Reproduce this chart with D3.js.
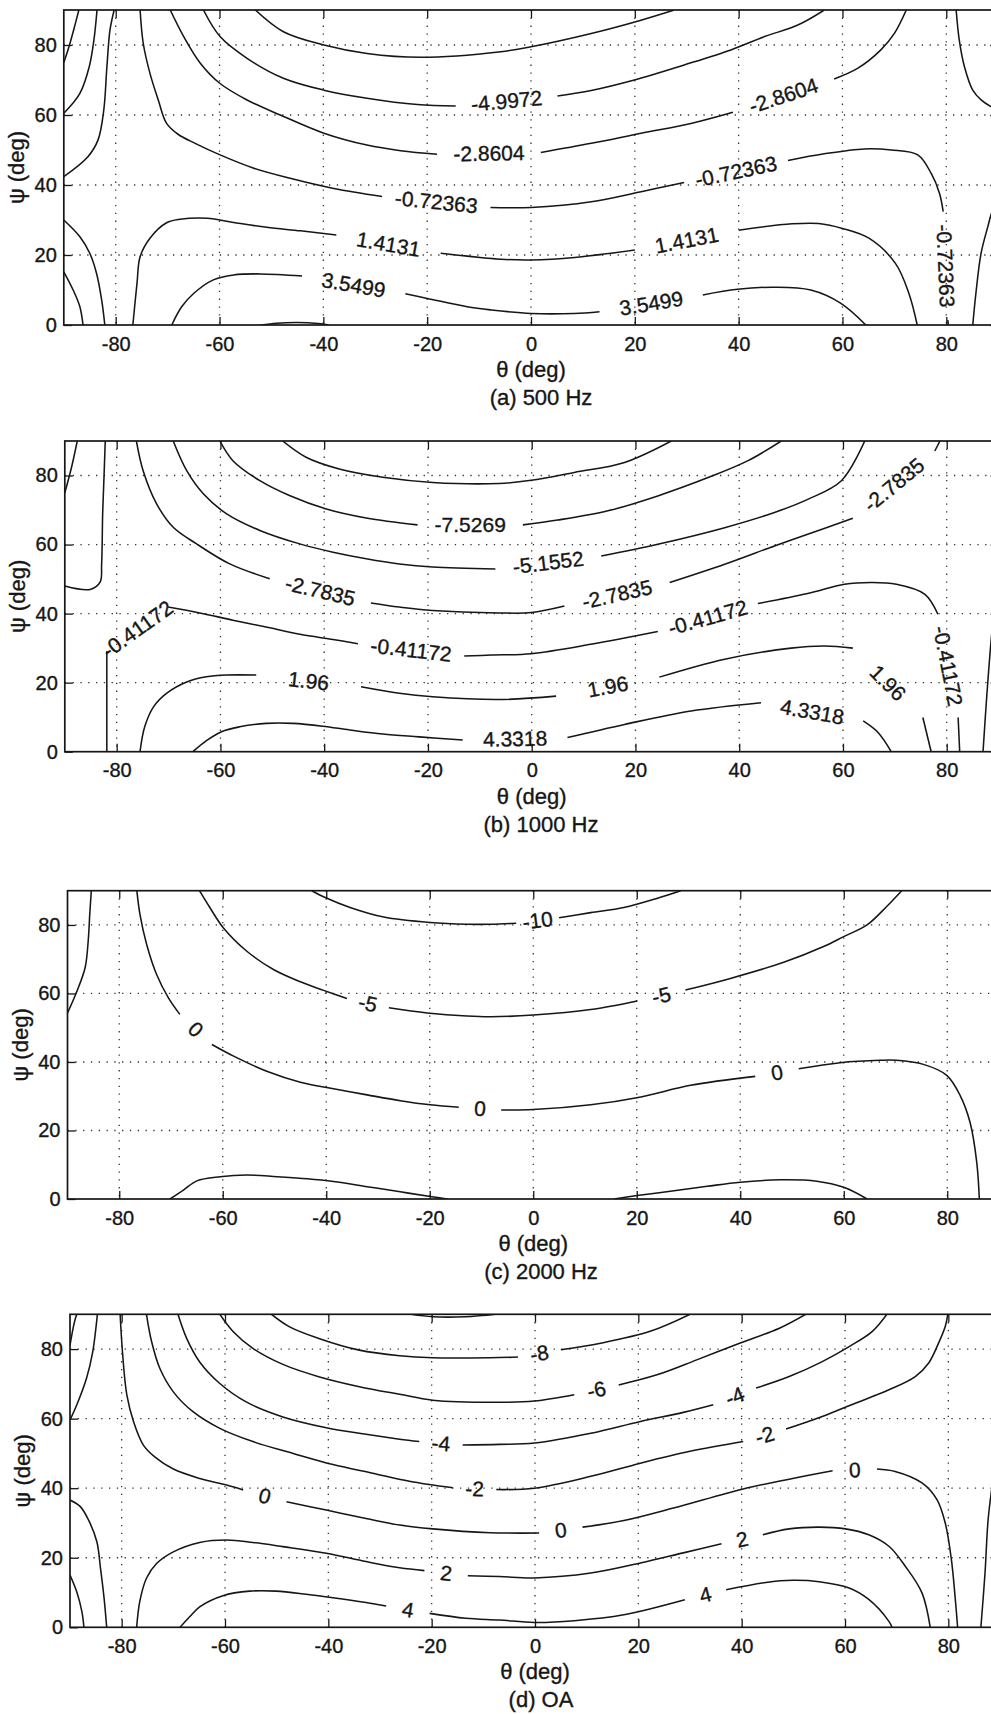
<!DOCTYPE html>
<html>
<head>
<meta charset="utf-8">
<script src="https://cdn.jsdelivr.net/npm/d3@7"></script>
<style>
body { margin: 0; background: #fff; }
svg { display: block; }
</style>
</head>
<body>
<div id="chart"></div>
<script>
const WIDTH = 991, HEIGHT = 1714;
const INK = "#161616";
const FONT = "'Liberation Sans', Arial, Helvetica, sans-serif";

const thetaTicks = [-80, -60, -40, -20, 0, 20, 40, 60, 80];
const psiTicks = [0, 20, 40, 60, 80];
const captions = ["(a) 500 Hz", "(b) 1000 Hz", "(c) 2000 Hz", "(d) OA"];

// contour lines as [theta, psi] in degrees.
// a contour is broken into pieces; its level label sits in each gap between pieces
const contours500 = [
    {level: null, pieces: [[[-90,75],[-89,79.5],[-88.1,84.3],[-87.1,90]]]},
    {level: null, pieces: [[[-90,60.5],[-86.9,66.2],[-85.1,73.8],[-84.2,81.4],[-83.6,90]]]},
    {level: null, pieces: [[[-90,42.4],[-85.4,48],[-83.4,52.9],[-82.3,61.4],[-81.7,73.7],[-81.1,84.3],[-80.3,90]]]},
    {level: null, pieces: [[[-90,30],[-86.9,25.2],[-85,20.5],[-83.7,14.8],[-82.7,7.1],[-82.1,0]]]},
    {level: null, pieces: [[[-90,15.2],[-88.2,10],[-86.9,5.2],[-86.3,0]]]},
    {level: "1.4131", pieces: [
        [[-76.7,0],[-75.9,11.9],[-75.3,19.5],[-73.4,24.8],[-70.2,29.2],[-67.6,30.2],[-62.4,30.5],[-57.3,29.3],[-50.9,27.9],[-44.4,26.9],[-37.5,25.7]],
        [[-17.4,20.5],[-5.8,18.8],[0,18.6],[8.4,19.3],[20,21.4]],
        [[40,27.1],[50.3,28.9],[55.4,29],[60,27.6],[65.1,24.8],[70.2,17.6],[72.8,9],[74.4,0]]]},
    {level: "3.5499", pieces: [
        [[-69.2,0],[-67.3,5.2],[-65,9],[-61.2,12.9],[-57.3,14.3],[-52.2,14.6],[-44.1,14]],
        [[-24.2,8.9],[-20,7.6],[-12.3,5.2],[-7.7,4.3],[0,3.3],[8.3,3.3],[13.2,3.8]],
        [[33.1,8.6],[39.8,10.2],[46.9,10.8],[53.9,10],[59.7,6.2],[64.5,0]]]},
    {level: null, pieces: [[[-52,0],[-49,0.5],[-45,0.7],[-41,0.4],[-39,0]]]},
    {level: "-0.72363", pieces: [
        [[-75.3,90],[-74.7,80.5],[-73.4,71.9],[-71.8,64.3],[-70.2,57.6],[-68,54.5],[-64.7,51.9],[-59.9,48.6],[-53.4,44.8],[-46.4,41.9],[-38,39],[-28.7,36.7]],
        [[-7.8,33.6],[0,33.6],[11.6,35.2],[21.2,38.1],[29.5,40.7]],
        [[49.5,47],[56.5,48.9],[64.2,50.3],[69.4,50],[74.5,48.6],[77.1,43.3],[78.7,37.6],[79.4,32.4]],
        [[80.3,1.4],[80.4,0]]]},
    {level: "-2.8604", pieces: [
        [[-69.5,90],[-66.9,82.4],[-63.7,74.8],[-59.9,69],[-54.7,64.3],[-48.3,60],[-39.9,54.8],[-31.6,51.4],[-25.1,49.8],[-18.1,48.8]],
        [[1.9,49.3],[11.6,51.9],[21.2,54.8],[30.8,57.6],[38.9,60.8]],
        [[58.4,70.3],[62.9,73.3],[67.4,78.6],[70,83.3],[72.3,90]]]},
    {level: "-4.9972", pieces: [
        [[-63.1,90],[-59.9,82.4],[-54.7,76.2],[-47.7,70.5],[-39.9,67.1],[-31.6,64.8],[-21.9,63],[-14.5,62.6]],
        [[5.1,65.4],[11.6,67],[19.9,70],[29.5,74.3],[38.5,78.6],[45,82.4],[51.4,85.7],[56.5,90]]]},
    {level: null, pieces: [[[-53.1,90],[-47.7,83.8],[-39.9,80],[-31.6,77.6],[-21.3,76.5],[-5.8,78.1],[0,79.5],[11.6,83.3],[21.2,87.1],[27.6,90]]]},
    {level: null, pieces: [[[81.9,90],[82.5,81.4],[83.5,73.8],[85.1,67.1],[86.7,64.3],[88.6,62.4],[90,61.5]]]},
    {level: null, pieces: [[[85.1,0],[85.7,9],[86.7,20.5],[88,28.1],[88.6,31.4],[90,37]]]}
];

const contours1000 = [
    {level: null, pieces: [[[-90,75],[-88.7,82.4],[-87.6,90]]]},
    {level: null, pieces: [[[-90,48],[-85.1,47],[-83.2,49.1],[-82.9,54.4],[-82.7,68.9],[-82.4,81.4],[-82.2,90]]]},
    {level: "-0.41172", pieces: [
        [[-81.9,0],[-81.9,29.2]],
        [[-70.1,41.9],[-64,40.2],[-57.6,38.1],[-51.2,36.1],[-44.7,34],[-38.3,32.5],[-33.5,31.3]],
        [[-13,27.7],[-7.8,28],[-0.1,28.4],[11.4,31.1],[24.3,34.8]],
        [[43.6,42.9],[53.2,45.8],[60.3,48.5],[65.5,49],[70.3,48.5],[75.8,45.6],[78.3,39.8]],
        [[82.2,9.9],[82.5,0]]]},
    {level: "1.96", pieces: [
        [[-75.5,0],[-74.6,7.2],[-72.9,13],[-70.4,16.9],[-66.5,20.2],[-62.7,21.7],[-58.8,22.2],[-53.1,22.2]],
        [[-32.9,18.8],[-25.5,16.9],[-19.1,15.9],[-6.3,15.1],[4.7,16.1]],
        [[24.6,21.6],[37.2,26.8],[50,30],[56.5,30.6],[61.9,30]],
        [[75.4,9.9],[77,0]]]},
    {level: "4.3318", pieces: [
        [[-65.3,0],[-62.7,3.2],[-59.8,5.8],[-56.3,7.2],[-51.2,8.2],[-46,8.2],[-40.3,7.4],[-35.1,6.3],[-28.7,5.1],[-21.7,4.3],[-13.3,3.4]],
        [[6.9,4.1],[17.9,7.9],[30.7,11.8],[44.2,14.2]],
        [[63.9,8.9],[66.8,5.5],[69.3,0]]]},
    {level: "-2.7835", pieces: [
        [[-76.2,90],[-74.9,81.4],[-72.3,71.8],[-69.1,65],[-64.6,60.2],[-58.2,54.4],[-50.5,50.1]],
        [[-31,43.1],[-25.5,41.9],[-19.1,40.9],[-6.3,40.2],[-0.1,40.3],[6.3,42.2]],
        [[26.6,49],[37.2,54.3],[46.8,59.6],[53.2,63],[61.9,67.6]],
        [[77.7,87.1],[78.7,90]]]},
    {level: "-5.1552", pieces: [
        [[-69.1,90],[-66.5,81.4],[-63.3,74.7],[-58.8,68.9],[-52.4,64.1],[-44.7,60.2],[-38.3,57.8],[-31.9,55.9],[-25.5,54.4],[-19.1,53.5],[-7,52.9]],
        [[13.4,56.7],[24.3,60.1],[37.2,64.9],[46.8,69.3],[53.2,73.1],[59.7,78.5],[64.2,90]]]},
    {level: "-7.5269", pieces: [
        [[-60.1,90],[-57.6,84.3],[-52.4,78.5],[-46.7,74.2],[-39.6,70.3],[-31.9,67.7],[-22,65.7]],
        [[-1.7,65.7],[5,67.1],[14.7,69.8],[24.3,74.1],[34,79.4],[41.7,84.3],[48.1,90]]]},
    {level: null, pieces: [[[-48,90],[-43.5,85.3],[-37.1,81.9],[-28.7,79.5],[-19.1,78],[-6.3,77.7],[-0.1,78.6],[8.2,80.9],[17.9,83.8],[26.9,90]]]},
    {level: null, pieces: [[[87,0],[87.7,15.7],[88.6,33],[89.6,48]]]}
];

const contours2000 = [
    {level: null, pieces: [[[-90,54.3],[-88.3,60.2],[-86.6,67.5],[-86,75.3],[-85.7,83.1],[-85.4,90]]]},
    {level: "0", pieces: [
        [[-76.6,90],[-76,83.1],[-74.7,74.3],[-72.8,65.6],[-70.5,58.7],[-68.3,53.9]],
        [[-62.1,45.1],[-57.9,41.7],[-51.5,37.3],[-45,34.1],[-38.6,32.2],[-32.1,30.4],[-25.7,28.7],[-19.9,27.5],[-14.4,26.8]],
        [[-6.2,26],[0,26.1],[11.1,27.5],[20.8,29.8],[30.4,33.2],[42.9,35.8]],
        [[51.3,38],[59.3,39.8],[67,40.5],[70.2,40.5],[75.4,39.3],[79.9,36.1],[82.5,30.2],[84.4,22.4],[85.7,10.7],[86.2,0]]]},
    {level: "-5", pieces: [
        [[-64.5,90],[-62.5,85.1],[-59.9,79.2],[-55.4,72.4],[-50.2,67],[-45,63.4],[-40.5,60.9],[-36,58.5]],
        [[-27.9,55.8],[-20.5,54.3],[-12.8,53.4],[-8.2,53.2],[0,53.7],[11.1,55.3],[20.1,57.8]],
        [[29.4,61],[38.1,64.4],[48.4,69.1],[56.1,73.7],[60,76.6],[64.5,80],[68.3,85.4],[71.2,90]]]},
    {level: "-10", pieces: [
        [[-42.8,90],[-40.2,88],[-35.4,85.1],[-28.9,82.3],[-19.9,80.7],[-12.8,80.2],[-8.2,80.2],[-3.3,80.5]],
        [[5,82.1],[11.1,83.6],[17.5,85.1],[24,87.8],[28.5,90]]]},
    {level: null, pieces: [[[-70.2,0],[-67.6,2.6],[-65,5.3],[-60.5,6.5],[-55.4,7],[-49.5,6.5],[-43.7,5.9],[-38.6,5.1],[-32.1,3.6],[-25.7,2.1],[-19.9,0.7],[-16.6,0]]]},
    {level: null, pieces: [[[15.6,0],[20.1,1],[27.2,2.4],[33.6,3.7],[40,4.9],[47.8,5.6],[54.8,5.2],[60,3.4],[64.5,0]]]}
];

const contoursOA = [
    {level: null, pieces: [[[-90,81.1],[-89.2,87.4],[-88.7,90]]]},
    {level: null, pieces: [[[-90,59.6],[-88.7,63.9],[-86.8,71.6],[-85.6,79.2],[-85,85.9],[-84.7,90]]]},
    {level: null, pieces: [[[-90,36.6],[-88,34.7],[-86.4,30.8],[-84.8,24.6],[-84.1,17],[-83.4,8.3],[-82.9,0]]]},
    {level: null, pieces: [[[-90,15],[-88.7,10.2],[-87.7,4.5],[-87.3,0]]]},
    {level: "0", pieces: [
        [[-80.3,90],[-79.8,78.3],[-79,66.8],[-77.7,59.1],[-75.8,52.4],[-73.6,49],[-70,45.5],[-64.9,42.8],[-59.7,40.9],[-56.5,39.5]],
        [[-48.1,36.1],[-40.4,33.7],[-32.7,31.3],[-26.2,29.4],[-19.8,28.3],[-8.7,27.2],[0.8,27.1]],
        [[9.2,28.8],[17.2,30.7],[26.8,34.3],[40.3,39.8],[49.2,42.6],[57.6,45]],
        [[66.2,45.5],[69.7,44.8],[74.9,41.5],[77.8,36.7],[79.4,30],[80.6,19.4],[81.3,8.9],[81.8,0]]]},
    {level: "-2", pieces: [
        [[-75.2,90],[-74.2,82.1],[-72.6,74.4],[-70,67.7],[-66.2,62],[-61,57.2],[-54.6,53.4],[-46.8,50],[-39.1,46.8],[-31.4,44.3],[-24.3,42],[-15.9,40.1]],
        [[-7.5,39.6],[-0.1,40],[10.8,43.4],[20.4,47.2],[30,50.6],[40.3,53.4]],
        [[48.6,57],[55.6,60.6],[62.1,64.5],[68.5,68.3],[73.6,72.1],[76.2,76],[78.1,81.7],[79.4,86.5],[79.9,90]]]},
    {level: "-4", pieces: [
        [[-69.1,90],[-67.4,83],[-64.9,76.3],[-61,70.1],[-55.9,64.8],[-48.8,60.5],[-40.4,57.4],[-32.7,55.5],[-26.2,54.1],[-22.4,53.4]],
        [[-14,52.4],[-6.9,52.6],[-0.1,53],[10.8,55.8],[20.4,59.2],[28.7,61.8],[34.5,64]],
        [[42.8,68.8],[49.2,72.1],[55.6,76.4],[60.8,80.7],[65.3,85.1],[68.1,90]]]},
    {level: "-6", pieces: [
        [[-61,90],[-58.4,85],[-54.6,80.2],[-48.8,75.6],[-41.7,72],[-34,69.2],[-26.2,67],[-19.8,65.3],[-6.9,64.7],[-0.1,65.1],[7.6,66.9]],
        [[16.2,69.7],[23.6,72.6],[31.3,76.9],[39.6,81.7],[47.3,86],[52.4,90]]]},
    {level: "-8", pieces: [
        [[-51,90],[-47.5,86.4],[-41.7,83],[-34,79.7],[-26.2,78.1],[-19.8,77.5],[-8.7,77.5],[-3.3,77.7]],
        [[5,79.8],[12.7,81.7],[22.3,85.1],[30,90]]]},
    {level: null, pieces: [[[-24,90],[-19.8,89.3],[-13.4,89.3],[-7.6,90]]]},
    {level: "2", pieces: [
        [[-77.1,0],[-76.5,7.4],[-75.2,14.1],[-73.2,18.4],[-70,21.7],[-64.9,24.4],[-59.7,25.1],[-54.6,24.4],[-48.8,23.2],[-40.4,21.3],[-32.7,18.9],[-26.2,17.1],[-21.4,16.3]],
        [[-13,14.8],[-6.9,14.6],[-0.1,14.2],[10.8,15.6],[20.4,18.5],[28.7,21.4],[36.1,24]],
        [[44.1,26.6],[49.2,28.3],[55,28.8],[60.1,28.3],[64.6,26.6],[68.5,23.3],[71.7,17.5],[74.9,9.9],[76.5,0]]]},
    {level: "4", pieces: [
        [[-68.7,0],[-66.8,3.1],[-64.9,5.9],[-60.4,9.1],[-55.2,10.4],[-50.1,10.4],[-44.3,9.5],[-39.1,8.5],[-32.7,7.1],[-28.8,6.1]],
        [[-20.4,4],[-13.4,2.6],[-6.9,2.1],[-0.1,1.4],[7.6,1.9],[17.2,3.6],[29,7.9]],
        [[37,10.8],[44.7,12.9],[49.9,13.5],[55,13.1],[60.8,11.3],[64.6,8],[68.5,1.7],[69.1,0]]]},
    {level: null, pieces: [[[86.3,0],[87.1,15.6],[87.7,30.9],[88.6,42]]]}
];

// where each axes box sits on the page (the right edge runs past the page)
const boxes = [
    {left: 63.8, top: 10, width: 934.4, height: 315},
    {left: 64.8, top: 441, width: 933.8, height: 310.7},
    {left: 67.5, top: 890.7, width: 931.5, height: 308.3},
    {left: 70, top: 1314.3, width: 930, height: 313}
];
const CAPTION_X = 541;

let svg = d3.select("#chart")
    .append("svg")
    .attr("width", WIDTH)
    .attr("height", HEIGHT)
    .style("background", "#fff");

[contours500, contours1000, contours2000, contoursOA].forEach((data, i) => {
    drawPanel(data, captions[i], boxes[i], i);
});

// scanned print looks heavier than plain Liberation Sans, so give text a thin outline
function inked(sel, size) {
    return sel.attr("font-family", FONT)
        .attr("font-size", size)
        .attr("fill", INK)
        .attr("stroke", INK)
        .attr("stroke-width", 0.35);
}

function drawPanel(data, caption, box, idx) {
    let g = svg.append("g")
        .attr("transform", `translate(${box.left}, ${box.top})`);

    let x = d3.scaleLinear().domain([-90, 90]).range([0, box.width]);
    let y = d3.scaleLinear().domain([0, 90]).range([box.height, 0]);

    // dotted grid
    g.append("g").selectAll("line").data(thetaTicks).join("line")
        .attr("x1", d => x(d)).attr("x2", d => x(d))
        .attr("y1", 0).attr("y2", box.height)
        .attr("stroke", "#333").attr("stroke-width", 1.3)
        .attr("stroke-dasharray", "1.3 6.5");
    g.append("g").selectAll("line").data(psiTicks.filter(d => d > 0)).join("line")
        .attr("x1", 0).attr("x2", box.width)
        .attr("y1", d => y(d)).attr("y2", d => y(d))
        .attr("stroke", "#333").attr("stroke-width", 1.3)
        .attr("stroke-dasharray", "1.3 6.5");

    let clipId = "clip" + idx;
    g.append("clipPath").attr("id", clipId)
        .append("rect").attr("width", box.width).attr("height", box.height);

    let line = d3.line()
        .x(d => x(d[0]))
        .y(d => y(d[1]))
        .curve(d3.curveCatmullRom.alpha(0.5));

    let pieces = [];
    data.forEach(c => c.pieces.forEach(p => pieces.push(p)));

    g.append("g").attr("clip-path", `url(#${clipId})`)
        .selectAll("path").data(pieces).join("path")
        .attr("d", line)
        .attr("fill", "none")
        .attr("stroke", INK)
        .attr("stroke-width", 1.55);

    // contour labels go in the gaps, turned along the gap
    let labels = [];
    data.filter(c => c.level !== null).forEach(c => {
        for (let k = 0; k < c.pieces.length - 1; k++) {
            let a = c.pieces[k][c.pieces[k].length - 1];
            let b = c.pieces[k + 1][0];
            let x1 = x(a[0]), y1 = y(a[1]), x2 = x(b[0]), y2 = y(b[1]);
            let ang = Math.atan2(y2 - y1, x2 - x1) * 180 / Math.PI;
            if (ang > 90) ang -= 180;
            if (ang < -90) ang += 180;
            labels.push({text: c.level, cx: (x1 + x2) / 2, cy: (y1 + y2) / 2, ang: ang});
        }
    });

    inked(g.append("g").selectAll("text").data(labels).join("text"), 21)
        .attr("transform", d => `translate(${d.cx}, ${d.cy}) rotate(${d.ang})`)
        .attr("text-anchor", "middle")
        .attr("dy", "0.35em")
        .text(d => d.text);

    // axes: ticks point inwards on all four sides
    let fmt = d => String(d);
    let bottom = g.append("g")
        .attr("transform", `translate(0, ${box.height})`)
        .call(d3.axisBottom(x).tickValues(thetaTicks).tickSizeInner(-8).tickSizeOuter(0).tickPadding(11.5).tickFormat(fmt));
    let top = g.append("g")
        .call(d3.axisTop(x).tickValues(thetaTicks).tickSizeInner(-8).tickSizeOuter(0).tickFormat(() => ""));
    let left = g.append("g")
        .call(d3.axisLeft(y).tickValues(psiTicks).tickSizeInner(-8).tickSizeOuter(0).tickPadding(7).tickFormat(fmt));
    let right = g.append("g")
        .attr("transform", `translate(${box.width}, 0)`)
        .call(d3.axisRight(y).tickValues(psiTicks).tickSizeInner(-8).tickSizeOuter(0).tickFormat(() => ""));

    [bottom, top, left, right].forEach(ax => {
        ax.select(".domain").remove();
        ax.attr("font-family", FONT).attr("font-size", 20);
        ax.selectAll("line").attr("stroke", INK).attr("stroke-width", 1.3);
        inked(ax.selectAll("text"), 20);
    });

    g.append("rect")
        .attr("width", box.width)
        .attr("height", box.height)
        .attr("fill", "none")
        .attr("stroke", INK)
        .attr("stroke-width", 1.7);

    inked(g.append("text"), 22)
        .attr("x", x(0))
        .attr("y", box.height + 52)
        .attr("text-anchor", "middle")
        .text("θ (deg)");

    inked(g.append("text"), 22)
        .attr("transform", `translate(-40, ${box.height / 2}) rotate(-90)`)
        .attr("text-anchor", "middle")
        .text("ψ (deg)");

    inked(g.append("text"), 22)
        .attr("x", CAPTION_X - box.left)
        .attr("y", box.height + 80)
        .attr("text-anchor", "middle")
        .text(caption);
}
</script>
</body>
</html>
